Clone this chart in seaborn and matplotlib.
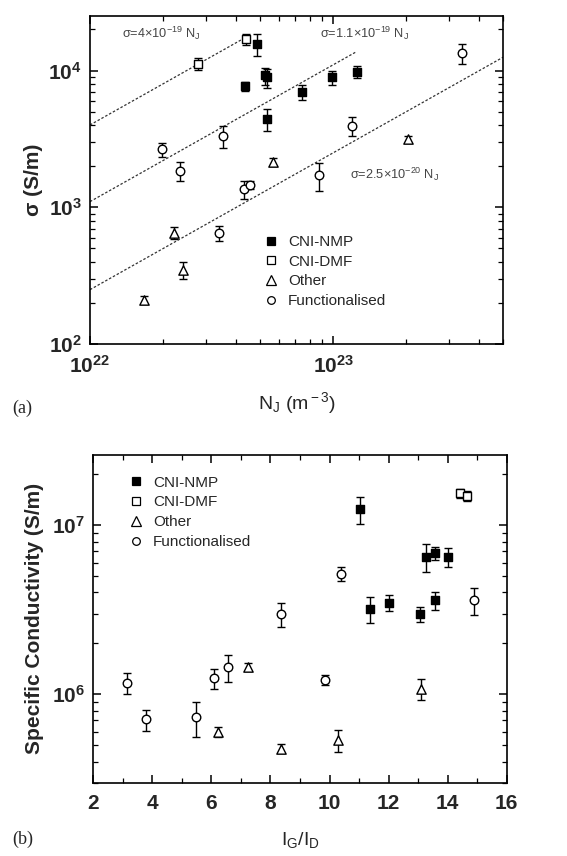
import numpy as np
import pandas as pd
import matplotlib
matplotlib.use("Agg")
import matplotlib.pyplot as plt
import seaborn as sns
from matplotlib.lines import Line2D
from matplotlib.ticker import LogLocator, FuncFormatter, MultipleLocator, NullFormatter

sns.set_style("ticks")
plt.rcParams['font.family'] = ['Liberation Sans', 'DejaVu Sans']
plt.rcParams['mathtext.fontset'] = 'custom'
plt.rcParams['mathtext.rm'] = 'Liberation Sans'
plt.rcParams['mathtext.it'] = 'Liberation Sans:italic'
plt.rcParams['mathtext.bf'] = 'Liberation Sans:bold'

groups = ["CNI-NMP", "CNI-DMF", "Other", "Functionalised"]

# ---- panel (a) data ----
a_nmp_x = [4.35e22, 4.87e22, 5.25e22, 5.35e22, 5.33e22, 7.43e22, 9.89e22, 1.26e23]
a_nmp_y = [7.7e3, 1.56e4, 9.2e3, 8.9e3, 4.4e3, 7.0e3, 8.9e3, 9.8e3]
a_nmp_e = [600, 2900, 1300, 1400, 800, 900, 1000, 1000]
a_dmf_x = [2.79e22, 4.37e22]
a_dmf_y = [1.12e4, 1.69e4]
a_dmf_e = [1100, 1500]
a_oth_x = [1.67e22, 2.22e22, 2.42e22, 5.68e22, 2.04e23]
a_oth_y = [210, 653, 351, 2160, 3140]
a_oth_e = [15, 70, 50, 150, 200]
a_fun_x = [1.97e22, 2.34e22, 3.40e22, 3.51e22, 4.32e22, 4.55e22, 8.79e22, 1.20e23, 3.39e23]
a_fun_y = [2650, 1850, 646, 3330, 1360, 1450, 1710, 3940, 13400]
a_fun_e = [300, 300, 80, 600, 200, 100, 400, 600, 2300]

fit_coef = [4e-19, 1.1e-19, 2.5e-20]
fit_xmax = [4.5e22, 1.25e23, 5e23]
fit_labels = ["σ=4×10$^{-19}$ N$_{\\rm J}$",
              "σ=1.1×10$^{-19}$ N$_{\\rm J}$",
              "σ=2.5×10$^{-20}$ N$_{\\rm J}$"]

# ---- panel (b) data ----
b_nmp_x = [11.02, 11.36, 12.0, 13.06, 13.28, 13.57, 13.57, 14.0]
b_nmp_y = [1.24e7, 3.2e6, 3.48e6, 2.98e6, 6.5e6, 6.8e6, 3.6e6, 6.5e6]
b_nmp_e = [2.2e6, 5.5e5, 3.8e5, 3.0e5, 1.2e6, 6.0e5, 4.5e5, 8.5e5]
b_dmf_x = [14.41, 14.67]
b_dmf_y = [1.54e7, 1.49e7]
b_dmf_e = [1.0e6, 1.0e6]
b_oth_x = [6.21, 7.23, 8.34, 10.28, 13.11]
b_oth_y = [6.0e5, 1.45e6, 4.78e5, 5.35e5, 1.08e6]
b_oth_e = [4e4, 8e4, 3e4, 8e4, 1.5e5]
b_fun_x = [3.13, 3.78, 5.48, 6.10, 6.57, 8.34, 9.85, 10.4, 14.89]
b_fun_y = [1.17e6, 7.1e5, 7.3e5, 1.24e6, 1.45e6, 2.98e6, 1.22e6, 5.17e6, 3.6e6]
b_fun_e = [1.6e5, 1.0e5, 1.7e5, 1.7e5, 2.6e5, 4.8e5, 8e4, 5.0e5, 6.5e5]

style = {
    "CNI-NMP": dict(marker="s", face="black", s=30),
    "CNI-DMF": dict(marker="s", face="white", s=30),
    "Other": dict(marker="^", face="white", s=45),
    "Functionalised": dict(marker="o", face="white", s=38),
}

def make_df(xs, ys, es):
    rows = []
    for g, x, y, e in zip(groups, xs, ys, es):
        for xi, yi, ei in zip(x, y, e):
            rows.append(dict(group=g, x=xi, y=yi, err=ei))
    return pd.DataFrame(rows)

df_a = make_df([a_nmp_x, a_dmf_x, a_oth_x, a_fun_x],
               [a_nmp_y, a_dmf_y, a_oth_y, a_fun_y],
               [a_nmp_e, a_dmf_e, a_oth_e, a_fun_e])
df_b = make_df([b_nmp_x, b_dmf_x, b_oth_x, b_fun_x],
               [b_nmp_y, b_dmf_y, b_oth_y, b_fun_y],
               [b_nmp_e, b_dmf_e, b_oth_e, b_fun_e])

fig = plt.figure(figsize=(5.67, 8.56), dpi=100)
ax1 = fig.add_axes([0.1587, 0.598, 0.7284, 0.3832])
ax2 = fig.add_axes([0.1646, 0.0856, 0.7291, 0.3829])

def draw(ax, df):
    for g in groups:
        d = df[df.group == g]
        st = style[g]
        ax.errorbar(d.x, d.y, yerr=d.err, fmt='none', ecolor='black',
                    elinewidth=1.0, capsize=3, capthick=1.0, zorder=2)
        sns.scatterplot(data=d, x="x", y="y", marker=st["marker"], color=st["face"],
                        edgecolor="black", linewidth=1.0, s=st["s"], ax=ax, zorder=3,
                        legend=False)

def legend(ax, loc_xy):
    handles = []
    for g in groups:
        st = style[g]
        handles.append(Line2D([], [], linestyle='none', marker=st["marker"],
                              markerfacecolor=st["face"], markeredgecolor='black',
                              markersize=5.5 if st["marker"] != "^" else 6.5,
                              markeredgewidth=0.9, label=g))
    ax.legend(handles=handles, loc='upper left', bbox_to_anchor=loc_xy, frameon=False,
              fontsize=11, handletextpad=0.6, labelspacing=0.38, handlelength=1.0,
              borderaxespad=0, borderpad=0)

def style_axes(ax):
    for sp in ax.spines.values():
        sp.set_visible(True)
        sp.set_linewidth(1.2)
        sp.set_color('black')
    ax.tick_params(which='both', direction='in', top=True, right=True, color='black')
    ax.tick_params(which='major', length=6, width=1.1, labelsize=15, pad=8)
    ax.tick_params(which='minor', length=3.5, width=0.9)
    for lab in ax.get_xticklabels() + ax.get_yticklabels():
        lab.set_fontweight('bold')

pow_fmt = FuncFormatter(lambda v, p: r"$\mathbf{10^{%d}}$" % int(round(np.log10(v))))

# ---- panel (a) ----
draw(ax1, df_a)
for c, xm in zip(fit_coef, fit_xmax):
    fx = np.array([1e22, xm])
    sns.lineplot(x=fx, y=c * fx, ax=ax1, color='#333333', linestyle=(0, (2, 1.5)),
                 linewidth=0.9, zorder=1)
ax1.set_xscale('log')
ax1.set_yscale('log')
ax1.set_xlim(1e22, 5e23)
ax1.set_ylim(100, 2.5e4)
ax1.xaxis.set_major_locator(LogLocator(base=10, numticks=10))
ax1.yaxis.set_major_locator(LogLocator(base=10, numticks=10))
ax1.xaxis.set_minor_locator(LogLocator(base=10, subs=np.arange(2, 10), numticks=20))
ax1.yaxis.set_minor_locator(LogLocator(base=10, subs=np.arange(2, 10), numticks=20))
ax1.xaxis.set_major_formatter(pow_fmt)
ax1.yaxis.set_major_formatter(pow_fmt)
ax1.xaxis.set_minor_formatter(NullFormatter())
ax1.yaxis.set_minor_formatter(NullFormatter())
style_axes(ax1)
ax1.tick_params(axis='y', which='major', pad=6)
ax1.set_xlabel("N$_{\\rm J}$ (m$^{\\rm -3}$)", fontsize=14, labelpad=9)
ax1.set_ylabel("σ (S/m)", fontsize=15, fontweight='bold', labelpad=4)
ann_color = '#444444'
ax1.text(0.077, 0.948, fit_labels[0], transform=ax1.transAxes, fontsize=9.2, color=ann_color, va='center')
ax1.text(0.557, 0.948, fit_labels[1], transform=ax1.transAxes, fontsize=9.2, color=ann_color, va='center')
ax1.text(0.63, 0.518, fit_labels[2], transform=ax1.transAxes, fontsize=9.2, color=ann_color, va='center')
legend(ax1, (0.42, 0.333))
fig.text(0.021, 0.518, "(a)", family=['Liberation Serif'], fontsize=13)

# ---- panel (b) ----
draw(ax2, df_b)
ax2.set_yscale('log')
ax2.set_xlim(2, 16)
ax2.set_ylim(3e5, 2.6e7)
ax2.xaxis.set_major_locator(MultipleLocator(2))
ax2.xaxis.set_minor_locator(MultipleLocator(1))
ax2.yaxis.set_major_locator(LogLocator(base=10, numticks=10))
ax2.yaxis.set_minor_locator(LogLocator(base=10, subs=np.arange(2, 10), numticks=20))
ax2.yaxis.set_major_formatter(pow_fmt)
ax2.yaxis.set_minor_formatter(NullFormatter())
style_axes(ax2)
ax2.tick_params(axis='y', which='major', pad=6)
ax2.set_xlabel("I$_{\\rm G}$/I$_{\\rm D}$", fontsize=14, labelpad=12)
ax2.set_ylabel("Specific Conductivity (S/m)", fontsize=15, fontweight='bold', labelpad=6)
legend(ax2, (0.085, 0.937))
fig.text(0.021, 0.014, "(b)", family=['Liberation Serif'], fontsize=13)

fig.savefig("out.png", dpi=100)
